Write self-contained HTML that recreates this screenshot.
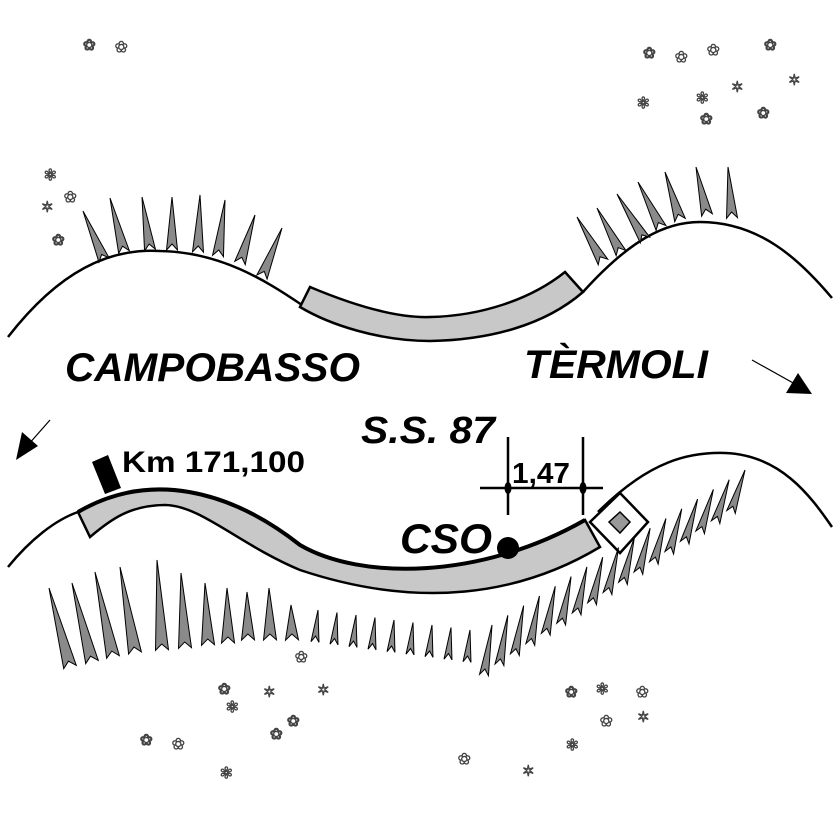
<!DOCTYPE html>
<html><head><meta charset="utf-8"><style>
html,body{margin:0;padding:0;background:#fff;}
svg{display:block;}
text{font-family:"Liberation Sans",sans-serif;font-weight:bold;}
.fl{font-size:15px;fill:none;stroke:#444;stroke-width:0.7;font-weight:normal;}
</style></head><body>
<svg id="s" width="836" height="826" viewBox="0 0 836 826" xmlns="http://www.w3.org/2000/svg">
<g fill="none" stroke="#000" stroke-width="2.5">
<path d="M8,337 C60,270 110,248 160,251 C220,252 265,280 302,305"/>
<path d="M583,292 C630,240 665,222 700,222 C760,222 800,260 832,298"/>
<path d="M8,567 C30,540 55,520 78,512"/>
<path d="M598,512 C650,460 690,452 725,453 C780,455 810,495 832,527"/>
</g>
<path d="M310,287 C360,308 400,318 430,317 C480,316 530,300 565,272 L583,292 C545,325 490,340 430,341 C380,341 330,325 300,307 Z" fill="#c8c8c8" stroke="#000" stroke-width="2.5"/>
<path d="M78,512 C150,470 230,490 300,545 C360,580 480,580 585,520 L600,547 C520,595 420,610 300,570 C240,545 200,505 165,505 C130,505 110,520 90,537 Z" fill="#c8c8c8" stroke="#000" stroke-width="2.5"/>
<path d="M78,512 C150,470 230,490 300,545 C360,580 480,580 585,520" fill="none" stroke="#000" stroke-width="4"/>
<polygon points="92,462 108,455 121,488 105,494" fill="#000"/>
<polygon points="620,493 648,522 620,553 590,522" fill="#fff" stroke="#000" stroke-width="2.5"/>
<polygon points="620,512 630,522 620,533 609,522" fill="#999" stroke="#000" stroke-width="1.5"/>
<circle cx="508" cy="548" r="11" fill="#000"/>
<g stroke="#000" stroke-width="2.5">
<line x1="508" y1="437" x2="508" y2="515"/><line x1="583" y1="437" x2="583" y2="515"/>
<line x1="480" y1="488" x2="603" y2="488"/>
</g>
<ellipse cx="508" cy="488" rx="3.5" ry="6" fill="#000"/><ellipse cx="583" cy="488" rx="3.5" ry="6" fill="#000"/>
<line x1="752" y1="360" x2="795" y2="384" stroke="#000" stroke-width="1.2"/>
<polygon points="812,394 786,393 798,373" fill="#000"/>
<line x1="50" y1="420" x2="28" y2="445" stroke="#000" stroke-width="1.2"/>
<polygon points="16,460 22,432 38,446" fill="#000"/>
<g id="sp" fill="#8a8a8a" stroke="#000" stroke-width="1"></g>
<text x="65" y="381" font-size="40" font-style="italic" textLength="295" lengthAdjust="spacingAndGlyphs">CAMPOBASSO</text>
<text x="524" y="378" font-size="40" font-style="italic" textLength="184" lengthAdjust="spacingAndGlyphs">TÈRMOLI</text>
<text x="361" y="443" font-size="38" font-style="italic" textLength="134" lengthAdjust="spacingAndGlyphs">S.S. 87</text>
<text x="122" y="472" font-size="30" textLength="183" lengthAdjust="spacingAndGlyphs">Km 171,100</text>
<text x="512" y="483" font-size="29" textLength="58" lengthAdjust="spacingAndGlyphs">1,47</text>
<text x="400" y="553" font-size="42" font-style="italic" textLength="92" lengthAdjust="spacingAndGlyphs">CSO</text>
<g class="fl">
<text x="83" y="50">❀</text><text x="115" y="52">✿</text>
<text x="643" y="58">❀</text><text x="675" y="62">✿</text><text x="707" y="55">✿</text><text x="764" y="50">❀</text>
<text x="637" y="108">✻</text><text x="696" y="103">✻</text><text x="731" y="92">✶</text><text x="788" y="85">✶</text>
<text x="700" y="124">❀</text><text x="757" y="118">❀</text>
<text x="44" y="180">✻</text><text x="64" y="202">✿</text><text x="41" y="212">✶</text><text x="52" y="245">❀</text>
<text x="295" y="662">✿</text>
<text x="218" y="694">❀</text><text x="263" y="697">✶</text><text x="317" y="695">✶</text><text x="226" y="712">✻</text>
<text x="140" y="745">❀</text><text x="172" y="749">✿</text><text x="270" y="739">❀</text><text x="287" y="726">❀</text><text x="220" y="778">✻</text>
<text x="565" y="697">❀</text><text x="596" y="694">✻</text><text x="636" y="697">✿</text><text x="600" y="726">✿</text><text x="637" y="722">✶</text>
<text x="566" y="750">✻</text><text x="458" y="764">✿</text><text x="522" y="776">✶</text>
</g>
</svg>
<script>
var g=document.getElementById('sp'),h='';
function sp(tx,ty,bx,by,w){var dx=bx-tx,dy=by-ty,l=Math.hypot(dx,dy),px=-dy/l*w/2,py=dx/l*w/2;
var nx=bx-dx/l*6,ny=by-dy/l*6;
h+='<polygon points="'+tx+','+ty+' '+(bx+px)+','+(by+py)+' '+nx+','+ny+' '+(bx-px)+','+(by-py)+'"/>';}
var T=[[83,211,104,260],[110,198,124,252],[142,197,150,250],[172,197,172,250],[200,195,198,252],[225,200,218,256],[255,215,240,263],[282,228,262,277],
[577,217,603,262],[597,208,621,253],[617,194,645,240],[638,182,661,228],[665,172,680,220],[696,167,707,215],[728,167,732,218]];
T.forEach(function(a){sp(a[0],a[1],a[2],a[3],11);});
var L=[[49,588,70,667],[72,583,92,662],[95,572,113,657],[120,567,135,653],[157,560,162,650],[181,573,185,648],[205,583,208,645],[227,588,228,643],[247,592,248,640],[269,588,270,640],[291,605,292,640]];
L.forEach(function(a){sp(a[0],a[1],a[2],a[3],13);});
for(var i=0;i<9;i++){var x=315+i*19,ty=610+i*2.5,by=642+i*2.5;sp(x+3,ty,x,by,8);}
for(var i=0;i<17;i++){var t=i/16,tx=492+t*253,ty=625-t*155,bx=tx-8-t*6,by=ty+42+(1-t)*8;sp(tx,ty,bx,by,9);}
g.innerHTML=h;
</script>
</body></html>
